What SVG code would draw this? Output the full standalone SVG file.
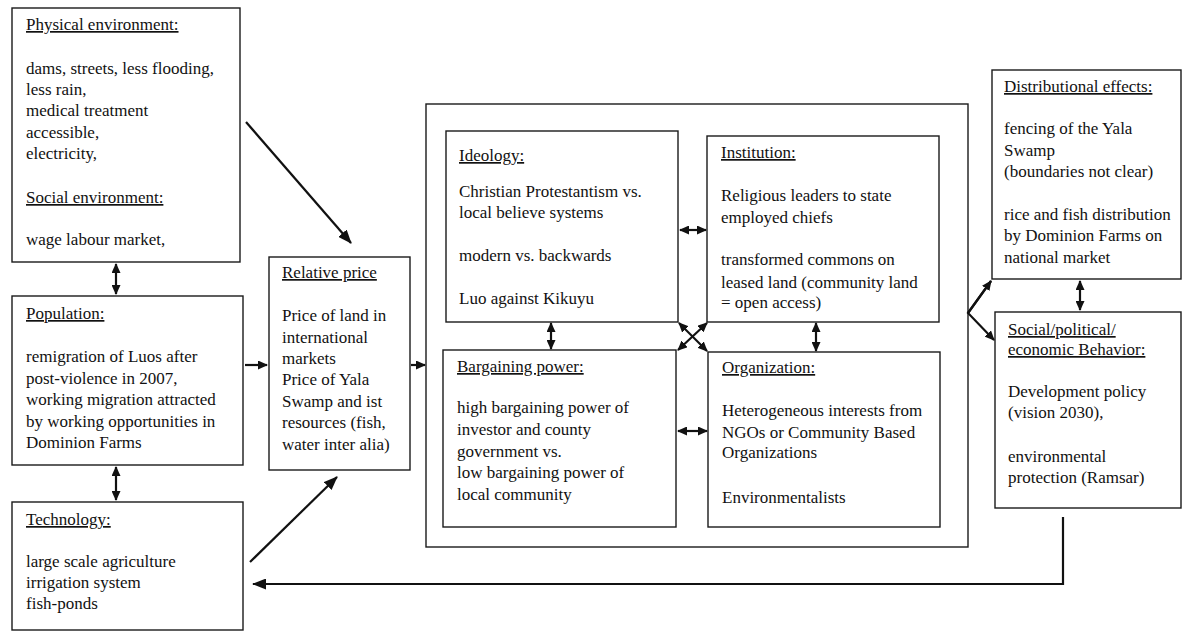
<svg xmlns="http://www.w3.org/2000/svg" width="1185" height="632" viewBox="0 0 1185 632">
<style>
.box{fill:#fff;stroke:#1a1a1a;stroke-width:1.4}
text{font-family:"Liberation Serif","Times New Roman",serif;font-size:17px;fill:#111}
.h{text-decoration:underline}
.c{fill:none;stroke:#111;stroke-width:2.2}
</style>
<defs>
<marker id="ah" markerUnits="userSpaceOnUse" markerWidth="14" markerHeight="11" refX="13" refY="5.5" orient="auto-start-reverse" viewBox="0 0 14 11">
<path d="M0,0 L14,5.5 L0,11 z" fill="#111"/>
</marker>
<marker id="as" markerUnits="userSpaceOnUse" markerWidth="10" markerHeight="9" refX="9" refY="4.5" orient="auto-start-reverse" viewBox="0 0 10 9">
<path d="M0,0 L10,4.5 L0,9 z" fill="#111"/>
</marker>
</defs>
<rect width="1185" height="632" fill="#fff"/>

<g id="physical">
<rect class="box" x="12" y="8" width="228" height="254"/>
<text x="26" y="30" class="h">Physical environment:</text>
<text x="26" y="74">dams, streets, less flooding,</text>
<text x="26" y="95">less rain,</text>
<text x="26" y="116">medical treatment</text>
<text x="26" y="138">accessible,</text>
<text x="26" y="159">electricity,</text>
<text x="26" y="203" class="h">Social environment:</text>
<text x="26" y="245">wage labour market,</text>
</g>

<g id="population">
<rect class="box" x="12" y="296" width="231" height="169"/>
<text x="26" y="319" class="h">Population:</text>
<text x="26" y="362">remigration of Luos after</text>
<text x="26" y="384">post-violence in 2007,</text>
<text x="26" y="405">working migration attracted</text>
<text x="26" y="427">by working opportunities in</text>
<text x="26" y="448">Dominion Farms</text>
</g>

<g id="technology">
<rect class="box" x="12" y="502" width="231" height="128"/>
<text x="26" y="525" class="h">Technology:</text>
<text x="26" y="567">large scale agriculture</text>
<text x="26" y="588">irrigation system</text>
<text x="26" y="609">fish-ponds</text>
</g>

<g id="relative-price">
<rect class="box" x="269" y="257" width="141" height="213"/>
<text x="282" y="278" class="h">Relative price</text>
<text x="282" y="321">Price of land in</text>
<text x="282" y="343">international</text>
<text x="282" y="364">markets</text>
<text x="282" y="385">Price of Yala</text>
<text x="282" y="407">Swamp and ist</text>
<text x="282" y="428">resources (fish,</text>
<text x="282" y="450">water inter alia)</text>
</g>

<g id="institutional-frame">
<rect class="box" x="426" y="104" width="542" height="443"/>
</g>

<g id="ideology">
<rect class="box" x="446" y="131" width="232" height="191"/>
<text x="459" y="161" class="h">Ideology:</text>
<text x="459" y="197">Christian Protestantism vs.</text>
<text x="459" y="218">local believe systems</text>
<text x="459" y="261">modern vs. backwards</text>
<text x="459" y="304">Luo against Kikuyu</text>
</g>

<g id="institution">
<rect class="box" x="707" y="136" width="232" height="186"/>
<text x="721" y="158" class="h">Institution:</text>
<text x="721" y="201">Religious leaders to state</text>
<text x="721" y="223">employed chiefs</text>
<text x="721" y="265">transformed commons on</text>
<text x="721" y="288">leased land (community land</text>
<text x="721" y="308">= open access)</text>
</g>

<g id="bargaining-power">
<rect class="box" x="443" y="350" width="233" height="177"/>
<text x="457" y="372" class="h">Bargaining power:</text>
<text x="457" y="413">high bargaining power of</text>
<text x="457" y="435">investor and county</text>
<text x="457" y="457">government vs.</text>
<text x="457" y="478">low bargaining power of</text>
<text x="457" y="500">local community</text>
</g>

<g id="organization">
<rect class="box" x="708" y="352" width="232" height="175"/>
<text x="722" y="373" class="h">Organization:</text>
<text x="722" y="416">Heterogeneous interests from</text>
<text x="722" y="438">NGOs or Community Based</text>
<text x="722" y="458">Organizations</text>
<text x="722" y="503">Environmentalists</text>
</g>

<g id="distributional-effects">
<rect class="box" x="992" y="70" width="189" height="209"/>
<text x="1004" y="92" class="h">Distributional effects:</text>
<text x="1004" y="134">fencing of the Yala</text>
<text x="1004" y="156">Swamp</text>
<text x="1004" y="177">(boundaries not clear)</text>
<text x="1004" y="220">rice and fish distribution</text>
<text x="1004" y="241">by Dominion Farms on</text>
<text x="1004" y="263">national market</text>
</g>

<g id="behavior">
<rect class="box" x="995" y="312" width="186" height="196"/>
<text x="1008" y="335" class="h">Social/political/</text>
<text x="1008" y="355" class="h">economic Behavior:</text>
<text x="1008" y="397">Development policy</text>
<text x="1008" y="418">(vision 2030),</text>
<text x="1008" y="462">environmental</text>
<text x="1008" y="483">protection (Ramsar)</text>
</g>

<g id="connectors">
<line class="c" x1="116" y1="264" x2="116" y2="294" marker-start="url(#as)" marker-end="url(#as)"/>
<line class="c" x1="116" y1="467" x2="116" y2="500" marker-start="url(#as)" marker-end="url(#as)"/>
<line class="c" x1="245" y1="365" x2="267" y2="365" marker-end="url(#as)"/>
<line class="c" x1="411" y1="365" x2="425" y2="365" marker-end="url(#as)"/>
<line class="c" x1="246" y1="122" x2="351" y2="243" marker-end="url(#ah)"/>
<line class="c" x1="250" y1="562" x2="337" y2="477" marker-end="url(#ah)"/>
<line class="c" x1="680" y1="230" x2="706" y2="230" marker-start="url(#as)" marker-end="url(#as)"/>
<line class="c" x1="678" y1="431" x2="707" y2="431" marker-start="url(#as)" marker-end="url(#as)"/>
<line class="c" x1="551" y1="323" x2="551" y2="349" marker-start="url(#as)" marker-end="url(#as)"/>
<line class="c" x1="816" y1="323" x2="816" y2="351" marker-start="url(#as)" marker-end="url(#as)"/>
<line class="c" x1="679" y1="323" x2="707" y2="351" marker-start="url(#as)" marker-end="url(#as)"/>
<line class="c" x1="707" y1="323" x2="678" y2="350" marker-start="url(#as)" marker-end="url(#as)"/>
<polyline class="c" points="991,281 968,313 994,340" marker-end="url(#as)"/>
<line class="c" x1="968" y1="313" x2="991" y2="281" marker-end="url(#as)"/>
<line class="c" x1="1080" y1="281" x2="1080" y2="310" marker-start="url(#as)" marker-end="url(#as)"/>
<polyline class="c" points="1063,517 1063,584 253,584" marker-end="url(#ah)"/>
</g>
</svg>
